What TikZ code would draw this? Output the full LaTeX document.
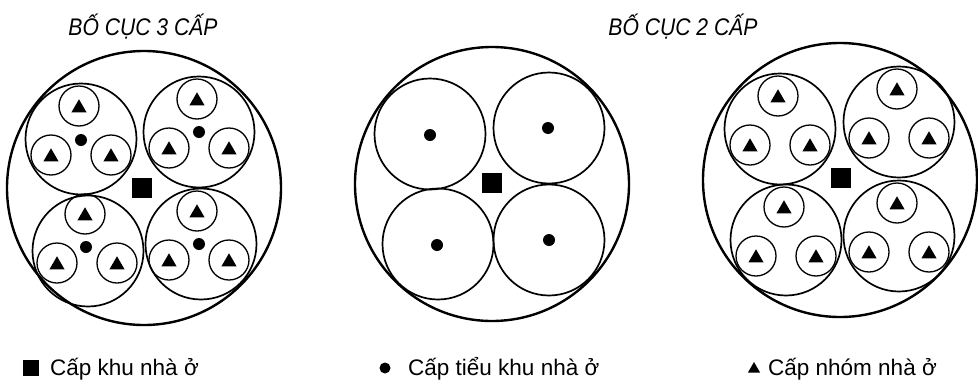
\documentclass[tikz,border=0pt]{standalone}
\usepackage{fontspec}
\setmainfont{Liberation Sans}
\usetikzlibrary{shapes.geometric}
\tikzset{
  outerc/.style={circle,draw,line width=2.4pt,inner sep=0pt,outer sep=0pt,minimum size=274pt},
  subc/.style={circle,draw,line width=1.7pt,inner sep=0pt,outer sep=0pt,minimum size=111pt},
  smallc/.style={circle,draw,line width=1.3pt,inner sep=0pt,outer sep=0pt,minimum size=40pt},
  tri/.style={regular polygon,regular polygon sides=3,fill=black,inner sep=0pt,outer sep=0pt,minimum size=17.5pt},
  dotc/.style={circle,fill=black,inner sep=0pt,outer sep=0pt,minimum size=12pt},
  sq/.style={rectangle,fill=black,inner sep=0pt,outer sep=0pt,minimum size=20pt},
  title/.style={font=\fontsize{24}{28}\selectfont\itshape,inner sep=0pt},
  legend/.style={font=\fontsize{22.5}{26}\selectfont,inner sep=0pt,anchor=west}
}
\newcommand{\nhomnode}[3]{%
  \node[smallc] (#1) at (#2,#3) {};
  \node[tri] (#1t) at (#2,#3+2) {};
}
\newcommand{\nhomgroup}[3]{%
  \nhomnode{#1a}{#2-2}{#3-33}
  \nhomnode{#1b}{#2-30}{#3+16}
  \nhomnode{#1c}{#2+30}{#3+16}
}
\begin{document}
\begin{tikzpicture}[x=1pt,y=-1pt]
\useasboundingbox (0,0) rectangle (978,386);
% titles
\node[title] (t1) at (143,27) {\scalebox{0.88}[1]{BỐ CỤC 3 CẤP}};
\node[title] (t2) at (683,27) {\scalebox{0.88}[1]{BỐ CỤC 2 CẤP}};
% ---------- diagram 1
\node[outerc] (A) at (144,188) {};
\node[subc] (A1) at (81,139) {};
\node[subc] (A2) at (199,132) {};
\node[subc] (A3) at (88,251) {};
\node[subc] (A4) at (201,244) {};
\nhomgroup{Aa}{81}{139}
\nhomgroup{Ab}{199}{132}
\nhomgroup{Ac}{87}{247}
\nhomgroup{Ad}{199}{244}
\node[dotc] (Ad1) at (81,140) {};
\node[dotc] (Ad2) at (199,132) {};
\node[dotc] (Ad3) at (86,247) {};
\node[dotc] (Ad4) at (199,244) {};
\node[sq] (As) at (142,188) {};
% ---------- diagram 2
\node[outerc] (B) at (492,184) {};
\node[subc] (B1) at (430,134) {};
\node[subc] (B2) at (549,128) {};
\node[subc] (B3) at (438,244) {};
\node[subc] (B4) at (549,240) {};
\node[dotc] (Bd1) at (430,135) {};
\node[dotc] (Bd2) at (548,128) {};
\node[dotc] (Bd3) at (437,245) {};
\node[dotc] (Bd4) at (549,240) {};
\node[sq] (Bs) at (492,183) {};
% ---------- diagram 3
\node[outerc] (C) at (840,180) {};
\node[subc] (C1) at (780,129) {};
\node[subc] (C2) at (899,122) {};
\node[subc] (C3) at (786,240) {};
\node[subc] (C4) at (899,236) {};
\nhomgroup{Ca}{780}{129}
\nhomgroup{Cb}{899}{122}
\nhomgroup{Cc}{786}{240}
\nhomgroup{Cd}{899}{236}
\node[sq] (Cs) at (841,178) {};
% ---------- legend
\node[rectangle,fill=black,inner sep=0pt,minimum width=16pt,minimum height=16pt] (L1) at (31,368) {};
\node[legend] (L1t) at (50,369) {Cấp khu nhà ở};
\node[circle,fill=black,inner sep=0pt,minimum size=11pt] (L2) at (385,368) {};
\node[legend] (L2t) at (408,369) {Cấp tiểu khu nhà ở};
\node[regular polygon,regular polygon sides=3,fill=black,inner sep=0pt,minimum size=14pt] (L3) at (754,369) {};
\node[legend] (L3t) at (768,369) {Cấp nhóm nhà ở};
\end{tikzpicture}
\end{document}
